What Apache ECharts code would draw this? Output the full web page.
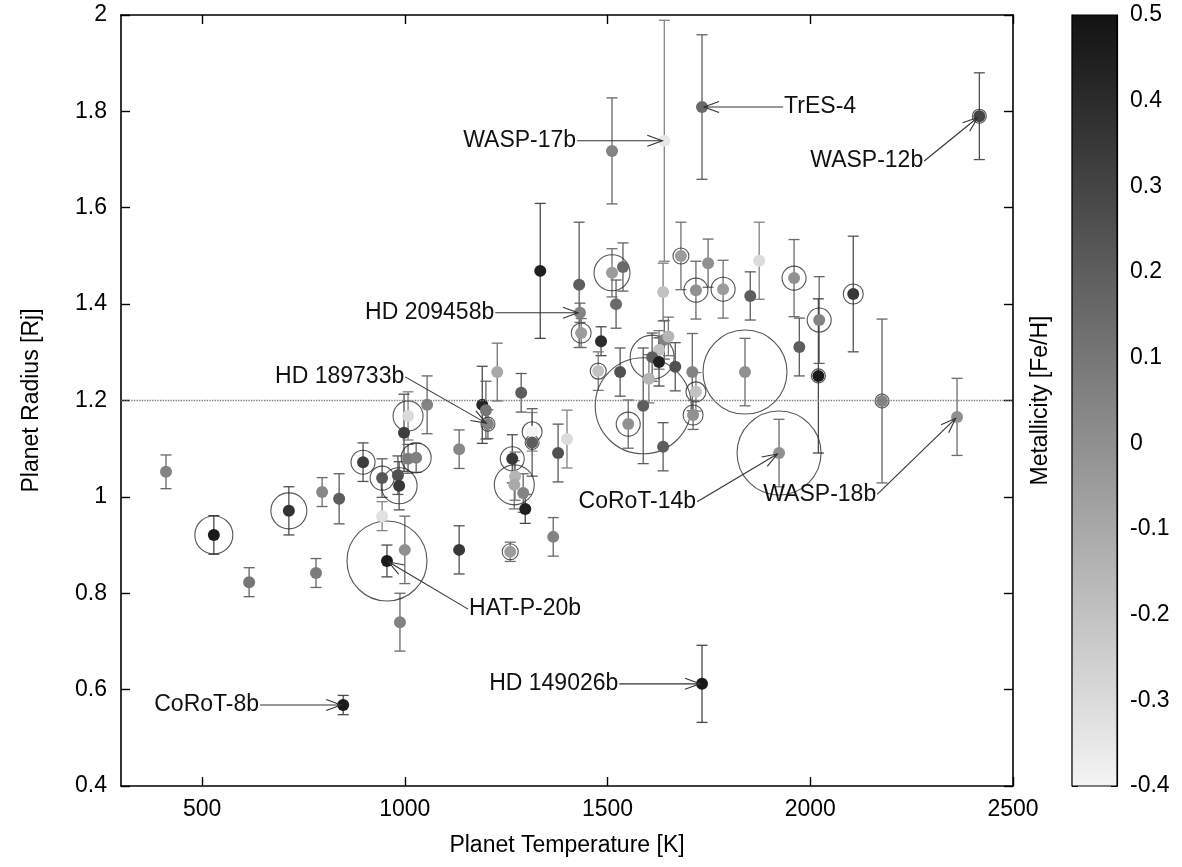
<!DOCTYPE html>
<html lang="en">
<head>
<meta charset="UTF-8">
<title>Planet radius vs temperature</title>
<script src="https://cdn.jsdelivr.net/npm/echarts@6/dist/echarts.min.js"></script>
<style>
html, body { margin: 0; padding: 0; background: #fff; }
#main { width: 1182px; height: 867px; }
</style>
</head>
<body>
<div id="main"></div>
<script>
// planet equilibrium temperature [K]
const temps = [411, 529, 616, 714, 796, 781, 838, 848, 897, 944,
  983, 986, 1008, 998, 1008, 1028, 1055, 944, 956, 1000,
  988, 1134, 1134, 1205, 1191, 1200, 1228, 1287, 1265, 1272,
  1270, 1292, 1297, 1260, 1314, 1314, 1378, 1400, 1366, 1430,
  1432, 1435, 1334, 1484, 1477, 1531, 1511, 1538, 1521, 1640,
  1511, 1733, 2417, 1637, 1681, 1718, 1748, 1785, 1640, 1650,
  1627, 1610, 1627, 1667, 1602, 1709, 1718, 1588, 1551, 1637,
  1711, 1839, 1923, 1973, 2022, 2020, 2106, 2177, 2362, 1852,
  1874, 1960, 1733];
// planet radius [Rj]
const radii = [1.052, 0.921, 0.823, 0.971, 1.010, 0.842, 0.996, 0.568, 1.072, 1.039,
  1.045, 1.023, 1.168, 1.133, 1.079, 1.081, 1.191, 0.960, 0.867, 0.890,
  0.740, 1.099, 0.890, 1.151, 1.191, 1.180, 1.259, 1.216, 1.079, 1.043,
  1.025, 1.008, 0.975, 0.886, 1.135, 1.113, 1.091, 1.120, 0.917, 1.440,
  1.382, 1.340, 1.469, 1.323, 1.261, 1.259, 1.465, 1.477, 1.400, 1.739,
  1.718, 1.809, 1.790, 1.425, 1.500, 1.429, 1.485, 1.431, 1.326, 1.333,
  1.305, 1.290, 1.280, 1.270, 1.245, 1.259, 1.218, 1.189, 1.151, 1.104,
  1.170, 1.259, 1.091, 1.311, 1.367, 1.251, 1.421, 1.199, 1.166, 1.417,
  1.490, 1.454, 0.612];
// radius uncertainty (+/-)
const radErr = [0.035, 0.04, 0.03, 0.05, 0.03, 0.03, 0.052, 0.02, 0.04, 0.04,
  0.04, 0.05, 0.05, 0.08, 0.03, 0.03, 0.06, 0.03, 0.033, 0.07,
  0.06, 0.04, 0.05, 0.03, 0.08, 0.06, 0.06, 0.04, 0.05, 0.05,
  0.05, 0.04, 0.03, 0.02, 0.04, 0.07, 0.06, 0.06, 0.04, 0.13,
  0.02, 0.03, 0.14, 0.03, 0.04, 0.05, 0.05, 0.05, 0.05, 0.25,
  0.11, 0.15, 0.09, 0.06, 0.07, 0.06, 0.05, 0.06, 0.04, 0.04,
  0.04, 0.05, 0.05, 0.05, 0.05, 0.08, 0.04, 0.12, 0.05, 0.05,
  0.03, 0.07, 0.07, 0.06, 0.09, 0.16, 0.12, 0.17, 0.08, 0.05,
  0.08, 0.08, 0.08];
// host star metallicity [Fe/H]
const feH = [0.05, 0.47, 0.10, 0.37, 0.03, 0.08, 0.20, 0.47, 0.33, 0.22,
  0.25, 0.35, -0.30, 0.33, 0.08, 0.06, 0.05, -0.32, 0.47, 0.00,
  0.05, 0.03, 0.35, 0.05, 0.42, 0.10, -0.10, 0.20, 0.35, -0.15,
  -0.10, 0.05, 0.45, -0.05, -0.40, 0.20, 0.25, -0.30, 0.05, 0.20,
  0.05, -0.05, 0.45, 0.40, -0.20, 0.25, -0.05, 0.15, 0.15, -0.35,
  0.05, 0.15, 0.30, -0.20, -0.05, 0.00, 0.00, -0.05, 0.05, -0.15,
  -0.20, 0.20, 0.45, 0.25, -0.15, 0.05, -0.20, 0.20, 0.00, 0.20,
  0.00, 0.00, 0.00, 0.20, 0.05, 0.47, 0.35, 0.05, 0.00, 0.20,
  -0.30, 0.00, 0.47];
// relative size of the open ring around a point (0 = no ring)
const ringScale = [0, 0.38, 0, 0.36, 0, 0, 0, 0, 0.24, 0.24,
  0, 0.36, 0.30, 0, 0, 0.30, 0, 0, 0.80, 0,
  0, 0, 0, 0.14, 0, 0, 0, 0, 0.24, 0,
  0.40, 0, 0, 0.16, 0.20, 0.14, 0, 0, 0, 0,
  0, 0.20, 0, 0, 0.16, 0, 0.36, 0, 0, 0,
  0, 0, 0.14, 0, 0.16, 0.24, 0, 0.24, 0, 0,
  0, 0.44, 0, 0, 0, 0, 0.20, 0.96, 0.24, 0,
  0.20, 0.84, 0.84, 0, 0.24, 0.14, 0.20, 0.14, 0, 0,
  0, 0.24, 0];

// labelled planets: name, where the label line starts, which planet it points to
const annNames = ['TrES-4', 'WASP-17b', 'WASP-12b', 'HD 209458b', 'HD 189733b',
  'CoRoT-14b', 'WASP-18b', 'HAT-P-20b', 'HD 149026b', 'CoRoT-8b'];
const annTextT = [1933, 1425, 2281, 1223, 1001, 1721, 2165, 1156, 1529, 643];
const annTextR = [1.809, 1.739, 1.697, 1.382, 1.249, 0.990, 1.005, 0.767, 0.612, 0.568];
const annTarget = [51, 49, 52, 40, 23, 72, 78, 18, 82, 7];

const xTicks = [500, 1000, 1500, 2000, 2500];
const RJ_LINE = 1.2;
const FE_MIN = -0.4, FE_MAX = 0.5;

const FONT = '"Liberation Sans", Arial, Helvetica, sans-serif';
const GRAY_HI = 244, GRAY_LO = 18;

function grayLevel(fe) {
  const t = Math.max(0, Math.min(1, (fe - FE_MIN) / (FE_MAX - FE_MIN)));
  return Math.round(GRAY_HI - t * (GRAY_HI - GRAY_LO));
}
function rgb(v) { return 'rgb(' + v + ',' + v + ',' + v + ')'; }
function barColor(fe) { return rgb(Math.round(0x40 + grayLevel(fe) * 0.3)); }

const pts = temps.map((t, i) => [t, radii[i], radErr[i], feH[i], ringScale[i]]);
const rings = pts.filter(p => p[4] > 0);
const ann = annNames.map((n, i) => [annTextT[i], annTextR[i],
  temps[annTarget[i]], radii[annTarget[i]]]);

const chart = echarts.init(document.getElementById('main'));

const axisTxt = { color: '#000', fontSize: 23, fontFamily: FONT };
const blackLine = { lineStyle: { color: '#000', width: 1.6 } };

const option = {
  animation: false,
  backgroundColor: '#fff',
  grid: [
    { left: 121, top: 15, width: 892, height: 771 },
    { left: 1072, top: 15, width: 45, height: 771 }
  ],
  xAxis: [
    {
      type: 'value', gridIndex: 0, position: 'bottom', min: 300, max: 2500,
      name: 'Planet Temperature [K]', nameLocation: 'middle', nameGap: 48,
      nameTextStyle: axisTxt,
      axisLine: blackLine,
      axisTick: { inside: true, length: 9, customValues: xTicks, lineStyle: { color: '#000', width: 1.4 } },
      axisLabel: Object.assign({ margin: 12, customValues: xTicks, formatter: v => String(v) }, axisTxt),
      splitLine: { show: false }
    },
    {
      type: 'value', gridIndex: 0, position: 'top', min: 300, max: 2500,
      axisLine: blackLine,
      axisTick: { inside: true, length: 9, customValues: xTicks, lineStyle: { color: '#000', width: 1.4 } },
      axisLabel: { show: false },
      splitLine: { show: false }
    },
    { type: 'value', gridIndex: 1, min: 0, max: 1, show: false }
  ],
  yAxis: [
    {
      type: 'value', gridIndex: 0, position: 'left', min: 0.4, max: 2, interval: 0.2,
      name: 'Planet Radius [Rj]', nameLocation: 'middle', nameGap: 78, nameRotate: 90,
      nameTextStyle: axisTxt,
      axisLine: blackLine,
      axisTick: { inside: true, length: 9, lineStyle: { color: '#000', width: 1.4 } },
      axisLabel: Object.assign({ margin: 14 }, axisTxt),
      splitLine: { show: false }
    },
    {
      type: 'value', gridIndex: 0, position: 'right', min: 0.4, max: 2, interval: 0.2,
      axisLine: blackLine,
      axisTick: { inside: true, length: 9, lineStyle: { color: '#000', width: 1.4 } },
      axisLabel: { show: false },
      splitLine: { show: false }
    },
    {
      type: 'value', gridIndex: 1, position: 'left', min: FE_MIN, max: FE_MAX, interval: 0.1,
      name: 'Metallicity [Fe/H]', nameLocation: 'middle', nameGap: 20, nameRotate: 90,
      nameTextStyle: axisTxt,
      axisLine: { lineStyle: { color: '#000', width: 1.2 } },
      axisTick: { inside: true, length: 6, lineStyle: { color: '#000', width: 1 } },
      axisLabel: { show: false },
      splitLine: { show: false }
    },
    {
      type: 'value', gridIndex: 1, position: 'right', min: FE_MIN, max: FE_MAX, interval: 0.1,
      axisLine: { lineStyle: { color: '#000', width: 1.2 } },
      axisTick: { inside: true, length: 6, lineStyle: { color: '#000', width: 1 } },
      axisLabel: Object.assign({
        margin: 13,
        formatter: v => Math.abs(v) < 1e-9 ? '0' : String(+v.toFixed(1))
      }, axisTxt),
      splitLine: { show: false }
    }
  ],
  visualMap: {
    show: false, type: 'continuous', seriesIndex: 2, dimension: 3,
    min: FE_MIN, max: FE_MAX,
    inRange: { color: [rgb(GRAY_HI), rgb(GRAY_LO)] }
  },
  series: [
    {
      // error bars
      type: 'custom', xAxisIndex: 0, yAxisIndex: 0, data: pts, z: 2,
      encode: { x: 0, y: 1 },
      renderItem: function (params, api) {
        const x = api.value(0), r = api.value(1), e = api.value(2);
        const c = barColor(api.value(3));
        const top = api.coord([x, r + e]), bot = api.coord([x, r - e]);
        const cap = 5.5, st = { stroke: c, lineWidth: 1.3 };
        return {
          type: 'group', children: [
            { type: 'line', shape: { x1: top[0], y1: top[1], x2: bot[0], y2: bot[1] }, style: st },
            { type: 'line', shape: { x1: top[0] - cap, y1: top[1], x2: top[0] + cap, y2: top[1] }, style: st },
            { type: 'line', shape: { x1: bot[0] - cap, y1: bot[1], x2: bot[0] + cap, y2: bot[1] }, style: st }
          ]
        };
      }
    },
    {
      // open rings
      type: 'scatter', xAxisIndex: 0, yAxisIndex: 0, data: rings, z: 3,
      symbol: 'circle',
      symbolSize: v => v[4] * 100,
      itemStyle: { color: 'rgba(0,0,0,0)', borderColor: '#2a2a2a', borderWidth: 1.1 },
      silent: true,
      markLine: {
        silent: true, symbol: ['none', 'none'], label: { show: false },
        lineStyle: { type: 'dotted', color: '#777', width: 1.3 },
        data: [{ yAxis: RJ_LINE }]
      }
    },
    {
      // planets, shaded by metallicity
      type: 'scatter', xAxisIndex: 0, yAxisIndex: 0, data: pts, z: 4,
      symbolSize: 12,
      itemStyle: { opacity: 1 }
    },
    {
      // labels with arrows
      type: 'custom', xAxisIndex: 0, yAxisIndex: 0, data: ann, z: 5,
      encode: { x: 0, y: 1 },
      renderItem: function (params, api) {
        const a = api.coord([api.value(0), api.value(1)]);
        const b = api.coord([api.value(2), api.value(3)]);
        const dx = b[0] - a[0], dy = b[1] - a[1];
        const len = Math.sqrt(dx * dx + dy * dy);
        const ux = dx / len, uy = dy / len;
        const tip = [b[0] - ux * 2, b[1] - uy * 2];
        const hl = 15, hw = 5.5;
        const h1 = [tip[0] - ux * hl - uy * hw, tip[1] - uy * hl + ux * hw];
        const h2 = [tip[0] - ux * hl + uy * hw, tip[1] - uy * hl - ux * hw];
        const st = { stroke: '#333', lineWidth: 1.1, fill: null };
        const leftOfTarget = a[0] < b[0];
        return {
          type: 'group', children: [
            { type: 'line', shape: { x1: a[0], y1: a[1], x2: tip[0], y2: tip[1] }, style: st },
            { type: 'polyline', shape: { points: [h1, tip, h2] }, style: st },
            {
              type: 'text', x: a[0] + (leftOfTarget ? -1 : 1), y: a[1],
              style: {
                text: annNames[params.dataIndex], fill: '#111',
                fontSize: 23, fontFamily: FONT,
                align: leftOfTarget ? 'right' : 'left', verticalAlign: 'middle'
              }
            }
          ]
        };
      }
    },
    {
      // colour bar
      type: 'custom', xAxisIndex: 2, yAxisIndex: 2, data: [[0, FE_MIN, 1, FE_MAX]],
      encode: { x: [0, 2], y: [1, 3] },
      z: 1,
      renderItem: function (params, api) {
        const p0 = api.coord([api.value(0), api.value(3)]);
        const p1 = api.coord([api.value(2), api.value(1)]);
        return {
          type: 'rect',
          shape: { x: p0[0], y: p0[1], width: p1[0] - p0[0], height: p1[1] - p0[1] },
          style: {
            fill: new echarts.graphic.LinearGradient(0, 0, 0, 1, [
              { offset: 0, color: rgb(GRAY_LO) },
              { offset: 1, color: rgb(GRAY_HI) }
            ]),
            stroke: '#000', lineWidth: 1.2
          }
        };
      }
    }
  ]
};

chart.setOption(option);
</script>
</body>
</html>
